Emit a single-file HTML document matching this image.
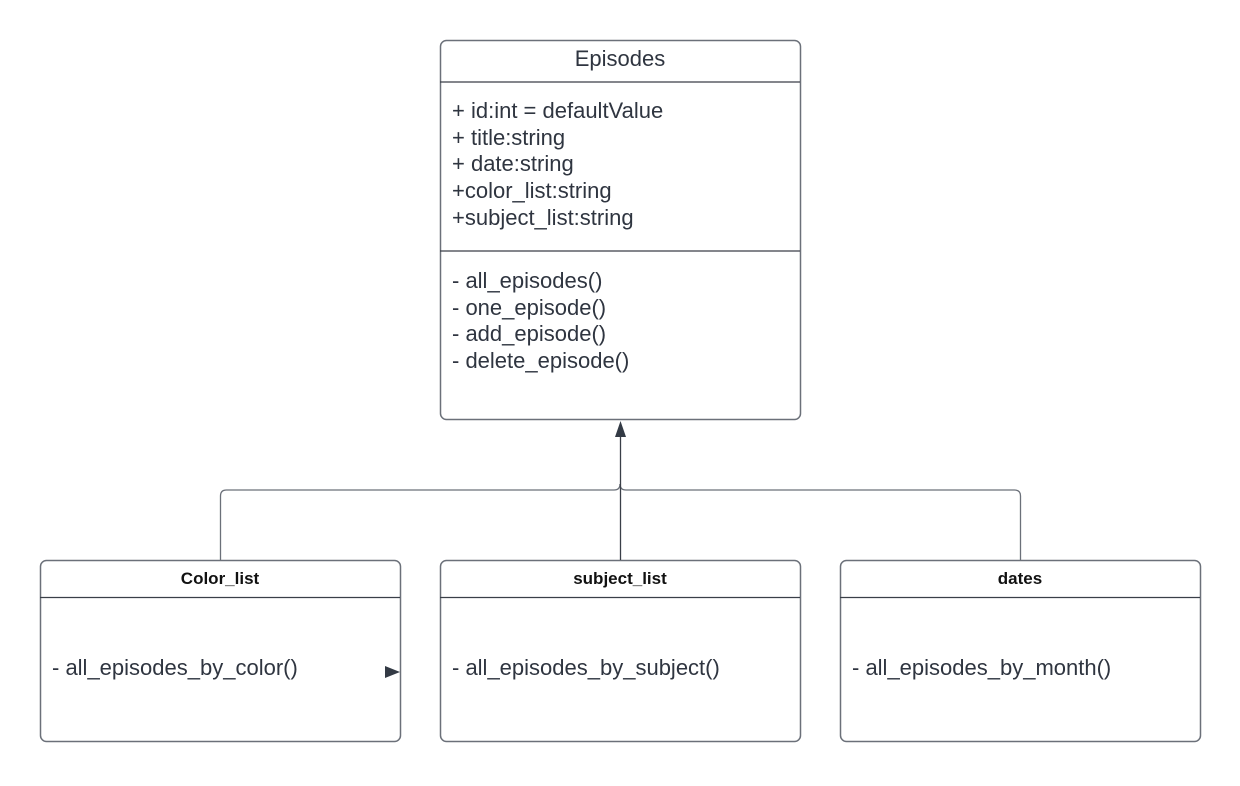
<!DOCTYPE html>
<html><head><style>
body{margin:0;background:#fff;}
svg text{font-family:"Liberation Sans",sans-serif;fill:#2f3540;}
</style></head><body>
<svg width="1240" height="781" xmlns="http://www.w3.org/2000/svg">
<g fill="none" stroke="#6b7079" stroke-width="1.5">
<rect x="440.5" y="40.5" width="360" height="379" rx="6"/>
<rect x="40.5" y="560.5" width="360" height="181" rx="6"/>
<rect x="440.5" y="560.5" width="360" height="181" rx="6"/>
<rect x="840.5" y="560.5" width="360" height="181" rx="6"/>
</g>
<g stroke="#3a3f48" stroke-width="1.3">
<line x1="440" y1="82" x2="800" y2="82"/>
<line x1="440" y1="251" x2="800" y2="251"/>
<line x1="40" y1="597.5" x2="400" y2="597.5"/>
<line x1="440" y1="597.5" x2="800" y2="597.5"/>
<line x1="840" y1="597.5" x2="1200" y2="597.5"/>
</g>
<g fill="none" stroke="#6b7079" stroke-width="1.3">
<path d="M220.5 560 V496 Q220.5 490 226.5 490 H614 Q620 490 620 484"/>
<path d="M1020.5 560 V496 Q1020.5 490 1014.5 490 H626 Q620 490 620 484"/>
</g>
<line x1="620.5" y1="560" x2="620.5" y2="436" stroke="#3a3f48" stroke-width="1.3"/>
<polygon points="620.5,421 615,437 626,437" fill="#333a45"/>
<polygon points="385,666 400,672 385,678" fill="#333a45"/>
<text x="620" y="66" font-size="22" text-anchor="middle">Episodes</text>
<g font-size="22">
<text x="452" y="118">+ id:int = defaultValue</text>
<text x="452" y="145">+ title:string</text>
<text x="452" y="171">+ date:string</text>
<text x="452" y="198">+color_list:string</text>
<text x="452" y="225">+subject_list:string</text>
<text x="452" y="288">- all_episodes()</text>
<text x="452" y="315">- one_episode()</text>
<text x="452" y="341">- add_episode()</text>
<text x="452" y="368">- delete_episode()</text>
<text x="52" y="675">- all_episodes_by_color()</text>
<text x="452" y="675">- all_episodes_by_subject()</text>
<text x="852" y="675">- all_episodes_by_month()</text>
</g>
<g font-size="17" font-weight="bold" text-anchor="middle">
<text x="220" y="584" style="fill:#111">Color_list</text>
<text x="620" y="584" style="fill:#111">subject_list</text>
<text x="1020" y="584" style="fill:#111">dates</text>
</g>
</svg>
</body></html>
